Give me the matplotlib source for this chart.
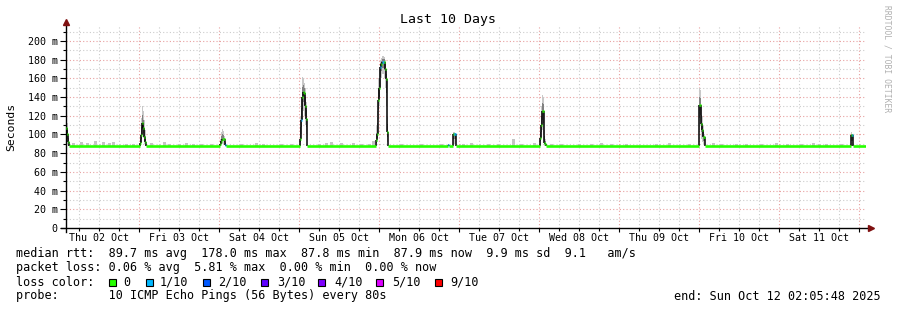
import numpy as np
import matplotlib.pyplot as plt
from matplotlib.patches import Rectangle

W, H = 897, 310
mono = "DejaVu Sans Mono"

# hours since Thu 02 Oct 00:00; graph ends Sun 12 Oct 02:05:48
t_start = 2.097
t_end = 242.097
base = 87.9

# median rtt samples (hours, ms, loss index) - baseline between them
med_t = [2.1, 2.4, 2.7, 3.0,
         24.3, 24.6, 24.9, 25.2, 25.5, 25.8, 26.1,
         48.3, 48.6, 48.9, 49.2, 49.5, 49.8, 50.1,
         72.3, 72.6, 72.9, 73.2, 73.5, 73.8, 74.1, 74.4,
         95.1, 95.4, 95.7, 96.0, 96.3, 96.6, 96.9, 97.2, 97.5, 97.8, 98.1, 98.4, 98.7,
         116.7, 117.0,
         118.2, 118.5, 118.8, 119.1,
         144.3, 144.6, 144.9, 145.2, 145.5, 145.8, 146.1,
         192.0, 192.3, 192.6, 192.9, 193.2, 193.5, 193.8,
         237.6, 237.9, 238.2]
med_v = [107, 100, 92, base,
         91, 99, 112, 107, 97, 92, base,
         90, 93, 95, 95, 95, 89, base,
         95, 116, 140, 145, 144, 130, 117, base,
         94, 100, 137, 150, 172, 175, 178, 178, 178, 170, 159, 103, base,
         89, base,
         100, 101, 101, base,
         96, 110, 125, 125, 91, 90, base,
         131, 131, 111, 105, 97, 97, base,
         99, 99, base]
med_loss = [0, 0, 0, 0,
            0, 0, 0, 0, 0, 0, 0,
            0, 0, 0, 0, 0, 1, 0,
            0, 1, 0, 0, 0, 0, 0, 0,
            0, 0, 0, 0, 1, 0, 1, 1, 0, 0, 0, 0, 0,
            1, 0,
            0, 1, 1, 0,
            0, 0, 0, 0, 0, 0, 0,
            0, 0, 0, 0, 0, 0, 0,
            0, 1, 0]
# smoke range around the spikes
smoke_lo = [92, 90, 88, base,
            88, 92, 100, 96, 90, 88, base,
            88, 89, 90, 90, 89, 88, base,
            89, 100, 115, 125, 120, 110, 100, base,
            88, 92, 115, 130, 150, 160, 165, 165, 160, 150, 130, 92, base,
            88, base,
            90, 90, 90, base,
            89, 95, 105, 100, 88, 88, base,
            105, 110, 95, 92, 90, 89, base,
            88, 88, base]
smoke_hi = [123, 112, 100, base,
            100, 118, 130, 125, 115, 105, base,
            95, 103, 106, 104, 98, 92, base,
            120, 140, 162, 160, 155, 150, 135, base,
            110, 125, 160, 170, 180, 182, 184, 184, 183, 180, 170, 120, base,
            90, base,
            103, 103, 102, base,
            110, 130, 142, 140, 105, 95, base,
            150, 148, 130, 120, 110, 100, base,
            103, 101, base]

# scattered light smoke over the flat parts
flat_t = [3.9, 6.3, 8.1, 10.5, 12.9, 14.7, 15.9, 19.8, 21.9,
          27.3, 31.2, 32.7, 35.7, 37.8, 39.9, 42.3, 45.3,
          54.3, 58.8, 60.9, 66.3, 69.3,
          77.7, 79.8, 81.3, 84.3, 87.9, 90.3, 92.7, 93.9,
          102.3, 108.3, 114.3,
          120.9, 123.3, 128.4, 131.4, 135.9, 138.3, 142.2,
          147.3, 150.3, 155.7, 159.3, 162.3, 165.3, 169.8,
          178.8, 182.7, 188.7,
          195.9, 198.3, 202.8, 205.8, 210.3, 214.8,
          218.1, 222.3, 225.9, 227.7, 229.8, 234.3]
flat_top = [91, 92, 91, 93, 92, 91, 92, 90, 90,
            91, 92, 90, 90, 91, 90, 90, 90,
            90, 91, 90, 90, 90,
            90, 91, 92, 91, 91, 90, 90, 93,
            90, 90, 90,
            90, 91, 90, 90, 95, 90, 91,
            90, 90, 90, 90, 91, 90, 90,
            90, 91, 90,
            91, 90, 90, 90, 90, 91,
            90, 90, 91, 90, 90, 90]

loss_colors = ["#26ff00", "#00b8ff", "#0059ff", "#5e00ff", "#7e00ff", "#dd00ff", "#ff0000"]
loss_labels = ["0", "1/10", "2/10", "3/10", "4/10", "5/10", "9/10"]
days = ["Thu 02 Oct", "Fri 03 Oct", "Sat 04 Oct", "Sun 05 Oct", "Mon 06 Oct",
        "Tue 07 Oct", "Wed 08 Oct", "Thu 09 Oct", "Fri 10 Oct", "Sat 11 Oct"]
yticks = list(range(0, 201, 20))

fig = plt.figure(figsize=(W / 100, H / 100), dpi=100)
ax = fig.add_axes([66 / W, 1 - 228 / H, 800 / W, 202 / H])
ax.set_xlim(t_start, t_end)
ax.set_ylim(0, 216)

# grid
for h in np.arange(6, 243, 6):
    if h % 24:
        ax.axvline(h, color="#cccccc", lw=0.8, ls=(0, (1, 2)), zorder=0)
for v in range(10, 216, 20):
    ax.axhline(v, color="#cccccc", lw=0.8, ls=(0, (1, 2)), zorder=0)
for h in range(24, 243, 24):
    ax.axvline(h, color="#e8a0a0", lw=0.8, ls=(0, (1, 2)), zorder=0)
for v in yticks[1:]:
    ax.axhline(v, color="#e8a0a0", lw=0.8, ls=(0, (1, 2)), zorder=0)

# smoke
ax.bar(flat_t, np.array(flat_top) - base, bottom=base, width=0.9,
       color="#c4c4c4", align="edge", zorder=1)
lo = np.array(smoke_lo, float)
hi = np.array(smoke_hi, float)
mv = np.array(med_v, float)
ax.bar(med_t, hi - lo, bottom=lo, width=0.3, color="#c8c8c8", align="edge", zorder=1)
ax.bar(med_t, (hi - lo) * 0.5, bottom=mv - (mv - lo) * 0.5, width=0.3,
       color="#808080", align="edge", zorder=1)

# median line: flat baseline segments plus the sampled spikes
seg_t = [t_start] + med_t + [t_end]
seg_v = [base] + med_v + [base]
seg_c = [0] + med_loss + [0]
for i in range(len(seg_t) - 1):
    if seg_v[i] != seg_v[i + 1]:
        ax.vlines(seg_t[i + 1], min(seg_v[i], seg_v[i + 1]), max(seg_v[i], seg_v[i + 1]),
                  color="black", lw=1.1, zorder=2)
for i in range(len(seg_t) - 1):
    ax.hlines(seg_v[i], seg_t[i], seg_t[i + 1], color=loss_colors[seg_c[i]],
              lw=1.9, zorder=3)

# axes & ticks
for s in ax.spines.values():
    s.set_visible(False)
ax.set_yticks(yticks)
ax.set_yticklabels(["0"] + ["%d m" % v for v in yticks[1:]], family=mono, fontsize=7.2)
ax.set_yticks(range(10, 216, 20), minor=True)
ax.tick_params(axis="y", which="major", length=4, width=0.8, pad=2)
ax.tick_params(axis="y", which="minor", length=2, width=0.8)
ax.set_xticks(range(24, 243, 24))
ax.set_xticklabels([])
ax.set_xticks(np.arange(6, 243, 6), minor=True)
ax.tick_params(axis="x", which="major", length=3, width=0.8)
ax.tick_params(axis="x", which="minor", length=2, width=0.8)
for i, d in enumerate(days):
    ax.text(12 + 24 * i, -5, d, family=mono, fontsize=7.2, ha="center", va="top")

ax.plot([-0.006, 1.004], [0, 0], color="black", lw=1, transform=ax.transAxes, clip_on=False)
ax.plot([0, 0], [-0.02, 1.01], color="black", lw=1, transform=ax.transAxes, clip_on=False)
ax.plot([1.006], [0], marker=">", ms=4, color="#7f1010", transform=ax.transAxes, clip_on=False)
ax.plot([0], [1.02], marker="^", ms=4, color="#7f1010", transform=ax.transAxes, clip_on=False)


def ftext(x, y, s, **kw):
    kw.setdefault("family", mono)
    kw.setdefault("fontsize", 8.5)
    kw.setdefault("va", "center")
    fig.text(x / W, 1 - y / H, s, **kw)


ftext(448, 19, "Last 10 Days", fontsize=9.5, ha="center")
ftext(11, 127, "Seconds", rotation=90, ha="center", fontsize=8.2)
ftext(887, 5, "RRDTOOL / TOBI OETIKER", fontsize=5.8, rotation=270, ha="center",
      va="top", color="#b0b0b0")

ftext(16, 254, "median rtt:  89.7 ms avg  178.0 ms max  87.8 ms min  87.9 ms now  9.9 ms sd  9.1   am/s")
ftext(16, 268, "packet loss: 0.06 % avg  5.81 % max  0.00 % min  0.00 % now")

ftext(16, 282, "loss color:")
box_x = [109, 146, 203, 261, 318, 376, 435]
lab_x = [123, 160, 218, 277, 334, 392, 450]
for c, lab, bx, lx in zip(loss_colors, loss_labels, box_x, lab_x):
    fig.add_artist(Rectangle((bx / W, 1 - 286 / H), 7 / W, 7 / H, facecolor=c,
                             edgecolor="black", lw=0.8, transform=fig.transFigure))
    ftext(lx, 282, lab)

ftext(16, 296, "probe:       10 ICMP Echo Pings (56 Bytes) every 80s")
ftext(881, 296, "end: Sun Oct 12 02:05:48 2025", ha="right")

fig.savefig("out.png", dpi=100)
